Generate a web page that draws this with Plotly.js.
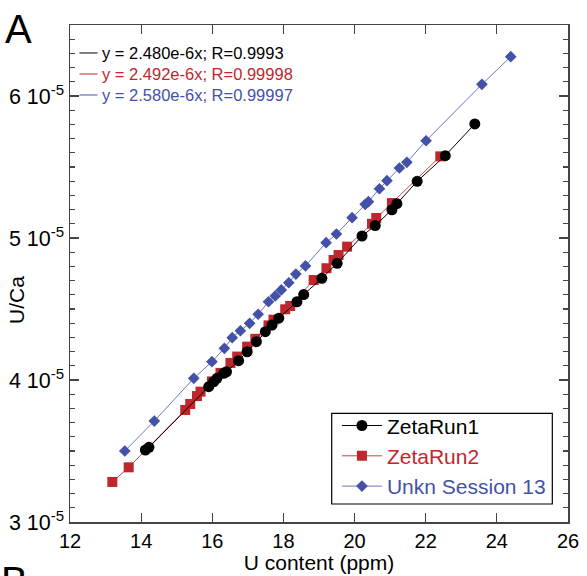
<!DOCTYPE html>
<html>
<head>
<meta charset="utf-8">
<script src="https://cdn.plot.ly/plotly-3.0.1.min.js"></script>
<style>html,body{margin:0;padding:0;background:#fff;}#chart{width:587px;height:576px;}</style>
</head>
<body>
<div id="chart"></div>
<script>
// U/Ca values are given in units of 1e-5
var SCALE = 1e-5;

var zeta1X = [14.12, 14.22, 15.90, 16.04, 16.13, 16.32, 16.40, 16.74, 16.98, 17.24, 17.49, 17.68, 17.87, 18.38, 18.57, 19.08, 19.51, 20.21, 20.58, 21.05, 21.19, 21.76, 22.55, 23.38];
var zeta1Y = [3.507, 3.526, 3.953, 3.988, 4.012, 4.047, 4.058, 4.136, 4.199, 4.270, 4.340, 4.387, 4.435, 4.551, 4.602, 4.716, 4.822, 5.014, 5.088, 5.199, 5.242, 5.399, 5.580, 5.803];

var zeta2X = [13.19, 13.65, 15.24, 15.38, 15.57, 15.67, 15.99, 16.23, 16.51, 16.70, 16.98, 17.21, 17.58, 17.72, 18.05, 18.19, 18.85, 19.21, 19.41, 19.55, 19.79, 20.49, 20.61, 21.05, 22.41];
var zeta2Y = [3.282, 3.385, 3.789, 3.831, 3.887, 3.918, 3.990, 4.050, 4.120, 4.165, 4.235, 4.290, 4.385, 4.425, 4.498, 4.521, 4.704, 4.787, 4.845, 4.880, 4.939, 5.100, 5.141, 5.246, 5.575];

var unknX = [13.54, 14.37, 15.48, 15.99, 16.34, 16.56, 16.79, 17.05, 17.29, 17.58, 17.77, 17.94, 18.15, 18.35, 18.62, 19.20, 19.49, 19.93, 20.30, 20.39, 20.70, 20.91, 21.26, 21.47, 22.01, 23.58, 24.39];
var unknY = [3.500, 3.711, 4.012, 4.129, 4.223, 4.298, 4.347, 4.399, 4.463, 4.551, 4.592, 4.634, 4.685, 4.746, 4.803, 4.967, 5.028, 5.143, 5.237, 5.256, 5.347, 5.404, 5.493, 5.533, 5.685, 6.082, 6.277];

var seriesNames = ['ZetaRun1', 'ZetaRun2', 'Unkn Session 13'];
var fitLabels = ['y = 2.480e-6x; R=0.9993', 'y = 2.492e-6x; R=0.99998', 'y = 2.580e-6x; R=0.99997'];

var yTickVals = [3, 4, 5, 6];
var yTickText = yTickVals.map(function(v){ return v + ' 10<sup>-5</sup>'; });

var BLACK = '#000000', RED = '#c0272d', BLUE = '#4352a8';
var REDLINE = '#cc4444', BLUELINE = '#6877c4';

function sc(a){ return a.map(function(v){ return v * SCALE; }); }

var traces = [
  {x: zeta2X, y: sc(zeta2Y), mode: 'lines+markers', type: 'scatter',
   name: '<span style="color:' + RED + '">' + seriesNames[1] + '</span>', legendrank: 2,
   line: {color: REDLINE, width: 1}, marker: {symbol: 'square', size: 10, color: RED}},
  {x: zeta1X, y: sc(zeta1Y), mode: 'lines+markers', type: 'scatter',
   name: '<span style="color:' + BLACK + '">' + seriesNames[0] + '</span>', legendrank: 1,
   line: {color: BLACK, width: 1}, marker: {symbol: 'circle', size: 11, color: BLACK}},
  {x: unknX, y: sc(unknY), mode: 'lines+markers', type: 'scatter',
   name: '<span style="color:' + BLUE + '">' + seriesNames[2] + '</span>', legendrank: 3,
   line: {color: BLUELINE, width: 1}, marker: {symbol: 'diamond', size: 9, color: BLUE}}
];

var fitColors = [BLACK, RED, BLUE];
var fitY = [0.9437, 0.9014, 0.8592];
var annotations = fitLabels.map(function(t, i){
  return {xref: 'paper', yref: 'paper', x: 0.0602, y: fitY[i], xanchor: 'left', yanchor: 'middle',
          text: t, showarrow: false, font: {size: 16.5, color: fitColors[i]}};
});
var shapes = fitColors.map(function(c, i){
  return {type: 'line', xref: 'paper', yref: 'paper', x0: 0.019, x1: 0.0552, y0: fitY[i], y1: fitY[i],
          line: {color: c, width: 1}};
});
// legend frame
shapes.push({type: 'rect', xref: 'paper', yref: 'paper', x0: 0.5255, x1: 0.9685, y0: 0.0362, y1: 0.2187,
             line: {color: '#000', width: 1.2}, fillcolor: 'rgba(0,0,0,0)'});
annotations.push({xref: 'paper', yref: 'paper', x: 0, y: 0.4467, xshift: -53, xanchor: 'center', yanchor: 'middle',
  text: 'U/Ca', textangle: -90, showarrow: false, font: {size: 21, color: '#000'}});
annotations.push({xref: 'paper', yref: 'paper', x: 0, y: 1, xshift: -67, yshift: 20, xanchor: 'left', yanchor: 'top',
  text: 'A', showarrow: false, font: {size: 40, color: '#000'}});
annotations.push({xref: 'paper', yref: 'paper', x: 0, y: 0, xshift: -71, yshift: -35, xanchor: 'left', yanchor: 'top',
  text: 'B', showarrow: false, font: {size: 40, color: '#000'}});

var layout = {
  width: 587, height: 576,
  margin: {l: 70, r: 19, t: 25, b: 54},
  paper_bgcolor: '#fff', plot_bgcolor: '#fff',
  font: {family: 'Liberation Sans, Arial, Helvetica, sans-serif', color: '#000', size: 20},
  showlegend: true,
  legend: {x: 0.536, y: 0.2347, xanchor: 'left', yanchor: 'top', bgcolor: 'rgba(0,0,0,0)',
           borderwidth: 0, font: {size: 21}, itemwidth: 40, traceorder: 'normal'},
  xaxis: {range: [12, 26], tickmode: 'linear', tick0: 12, dtick: 2, ticks: 'inside', ticklen: 9,
          tickcolor: '#444', tickwidth: 1.2, showline: true, linecolor: '#444', linewidth: 1.5, mirror: 'ticks',
          showgrid: false, zeroline: false, tickfont: {size: 20},
          title: {text: 'U content (ppm)', font: {size: 21}, standoff: 3}},
  yaxis: {range: [3e-5, 6.5e-5], tickmode: 'array', tickvals: sc(yTickVals), ticktext: yTickText,
          ticks: 'inside', ticklen: 9, tickcolor: '#444', tickwidth: 1.2, showline: true, linecolor: '#444',
          linewidth: 1.5, mirror: 'ticks', showgrid: false, zeroline: false, tickfont: {size: 21.5},
          minor: {tickmode: 'linear', tick0: 3e-5, dtick: 1e-6, ticks: 'inside', ticklen: 5, tickcolor: '#444', tickwidth: 1.2, showgrid: false}},
  annotations: annotations,
  shapes: shapes
};

Plotly.newPlot('chart', traces, layout, {displayModeBar: false, staticPlot: true});
</script>
</body>
</html>
